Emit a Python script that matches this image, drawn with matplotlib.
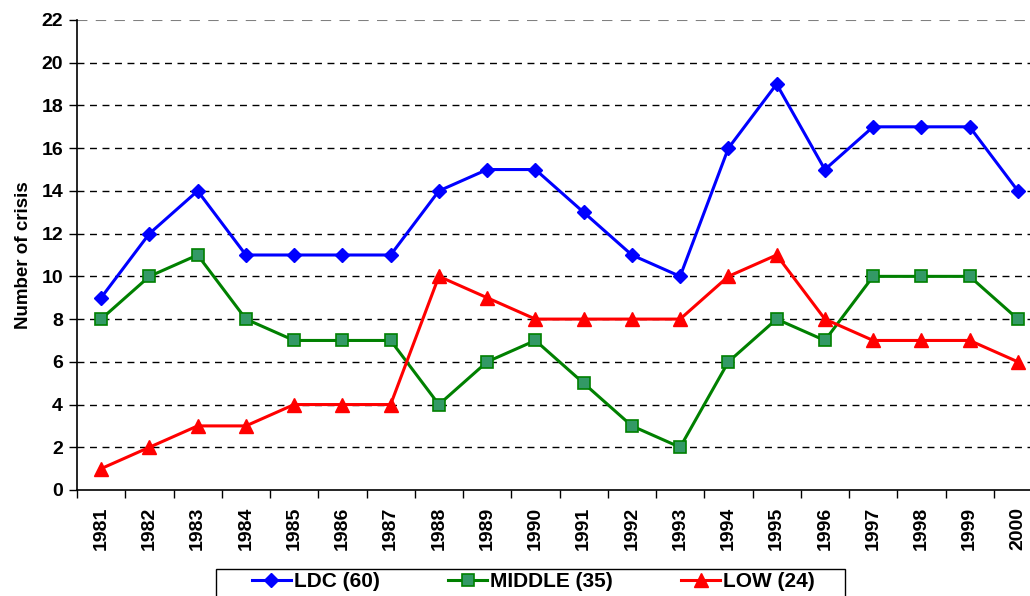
import matplotlib
matplotlib.use("Agg")
import matplotlib.pyplot as plt
from matplotlib.patches import Rectangle

plt.rcParams['font.family'] = ['Liberation Sans', 'DejaVu Sans']
plt.rcParams['font.weight'] = 'bold'

years = [str(y) for y in range(1981, 2001)]
ldc = [9, 12, 14, 11, 11, 11, 11, 14, 15, 15, 13, 11, 10, 16, 19, 15, 17, 17, 17, 14]
middle = [8, 10, 11, 8, 7, 7, 7, 4, 6, 7, 5, 3, 2, 6, 8, 7, 10, 10, 10, 8]
low = [1, 2, 3, 3, 4, 4, 4, 10, 9, 8, 8, 8, 8, 10, 11, 8, 7, 7, 7, 6]
labels = ['LDC (60)', 'MIDDLE (35)', 'LOW (24)']
yticks = list(range(0, 23, 2))

fig = plt.figure(figsize=(10.30, 5.96), dpi=100)
ax = fig.add_axes([77/1030, 1-490/596, 965/1030, 470/596])

x = list(range(len(years)))
ax.plot(x, ldc, color='#0000FF', lw=2.2, marker='D', ms=7, mfc='#0000FF', mec='#0000FF', label=labels[0], zorder=3)
ax.plot(x, middle, color='#008000', lw=2.2, marker='s', ms=8, mfc='#339966', mec='#008000', mew=1.2, label=labels[1], zorder=3)
ax.plot(x, low, color='#FF0000', lw=2.2, marker='^', ms=9.5, mfc='#FF0000', mec='#FF0000', label=labels[2], zorder=3)

ax.set_xlim(-0.5, len(years) - 0.5)
ax.set_ylim(0, 22)
ax.set_yticks(yticks)
ax.set_yticklabels([str(v) for v in yticks], fontsize=14, fontweight='bold')
ax.set_xticks([i - 0.5 for i in range(len(years) + 1)])
ax.set_xticklabels([])
ax.set_xticks(x, minor=True)
ax.set_xticklabels(years, minor=True, rotation=90, fontsize=14, fontweight='bold')
ax.tick_params(axis='x', which='major', length=6, direction='out', width=1)
ax.tick_params(axis='x', which='minor', length=0, pad=12)
ax.tick_params(axis='y', length=6, direction='out', width=1, pad=4)

for v in yticks[1:]:
    ax.axhline(v, color='black' if v < 22 else '#808080', lw=1.0 if v < 22 else 1.5,
               dashes=(5, 4), zorder=1)

for s in ['top', 'right']:
    ax.spines[s].set_visible(False)
ax.spines['left'].set_linewidth(1.2)
ax.spines['bottom'].set_linewidth(1.2)

ax.set_ylabel('Number of crisis', fontsize=13.5, fontweight='bold', labelpad=7)

# legend frame
fig.patches.append(Rectangle((216/1030, 1-600/596), (845-216)/1030, 31/596,
                             transform=fig.transFigure, fill=False, edgecolor='black', lw=1.0))
leg = fig.legend(loc='upper left', bbox_to_anchor=(252/1030, 1-572/596), ncol=3,
                 frameon=False, prop={'size': 15, 'weight': 'bold'},
                 handlelength=1.85, columnspacing=3.3, handletextpad=0.15,
                 borderpad=0, borderaxespad=0)

fig.savefig('out.png', dpi=100)
